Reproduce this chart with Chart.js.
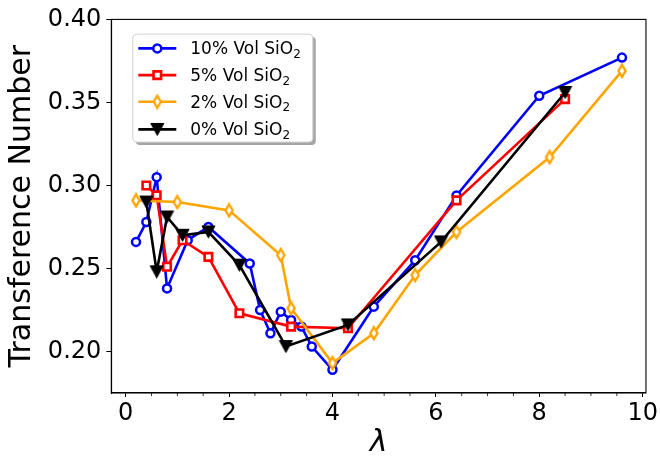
<!DOCTYPE html>
<html>
<head>
<meta charset="utf-8">
<script src="https://cdn.jsdelivr.net/npm/chart.js@4.4.1/dist/chart.umd.min.js"></script>
<style>
  html, body { margin: 0; padding: 0; background: #fff; }
  #wrap { width: 660px; height: 460px; }
</style>
</head>
<body>
<div id="wrap"><canvas id="graph" width="660" height="460"></canvas></div>
<script>
// lambda values and transference numbers per SiO2 loading
var blueX = [0.2, 0.4, 0.6, 0.8, 1.2, 1.6, 2.4, 2.6, 2.8, 3.0, 3.2, 3.4, 3.6, 4.0, 4.8, 5.6, 6.4, 8.0, 9.6];
var blueY = [0.266, 0.278, 0.305, 0.238, 0.267, 0.275, 0.253, 0.225, 0.211, 0.224, 0.219, 0.215, 0.203, 0.189, 0.227, 0.255, 0.294, 0.354, 0.377];

var redX = [0.4, 0.6, 0.8, 1.1, 1.6, 2.2, 3.2, 4.3, 6.4, 8.5];
var redY = [0.300, 0.294, 0.251, 0.267, 0.257, 0.223, 0.215, 0.214, 0.291, 0.352];

var orangeX = [0.2, 1.0, 2.0, 3.0, 3.2, 4.0, 4.8, 5.6, 6.4, 8.2, 9.6];
var orangeY = [0.291, 0.290, 0.285, 0.258, 0.226, 0.193, 0.211, 0.246, 0.272, 0.317, 0.369];

var blackX = [0.4, 0.6, 0.8, 1.1, 1.6, 2.2, 3.1, 4.3, 6.1, 8.5];
var blackY = [0.290, 0.248, 0.281, 0.270, 0.272, 0.252, 0.203, 0.216, 0.266, 0.356];

var seriesNames = ["10% Vol SiO", "5% Vol SiO", "2% Vol SiO", "0% Vol SiO"];
var xTicks = [0, 2, 4, 6, 8, 10];
var yTicks = [0.20, 0.25, 0.30, 0.35, 0.40];
var xMinorStep = 0.5;

var FONT = "'DejaVu Sans', 'Liberation Sans', sans-serif";
var LW = 2.6;

function pts(xs, ys) {
    return xs.map(function (x, i) { return { x: x, y: ys[i] }; });
}

// matplotlib style 'v' and 'd' markers as small canvases
function triangleDown() {
    var c = document.createElement("canvas");
    c.width = 15; c.height = 15;
    var g = c.getContext("2d");
    g.beginPath();
    g.moveTo(1, 1.5);
    g.lineTo(14, 1.5);
    g.lineTo(7.5, 13.5);
    g.closePath();
    g.fillStyle = "#000";
    g.fill();
    g.lineWidth = 1;
    g.strokeStyle = "#000";
    g.stroke();
    return c;
}

function thinDiamond(color) {
    var c = document.createElement("canvas");
    c.width = 12; c.height = 16;
    var g = c.getContext("2d");
    g.beginPath();
    g.moveTo(6, 2);
    g.lineTo(9.6, 8);
    g.lineTo(6, 14);
    g.lineTo(2.4, 8);
    g.closePath();
    g.fillStyle = "#fff";
    g.fill();
    g.lineWidth = 2.4;
    g.strokeStyle = color;
    g.stroke();
    return c;
}

var triImg = triangleDown();
var diaImg = thinDiamond("#ffa500");

var extras = {
    id: "extras",
    afterDatasetsDraw: function (chart) {
        var ctx = chart.ctx;
        var a = chart.chartArea;
        var xs = chart.scales.x;
        ctx.save();
        // frame
        ctx.strokeStyle = "#000";
        ctx.lineWidth = 1.1;
        ctx.strokeRect(a.left, a.top, a.right - a.left, a.bottom - a.top);
        // minor ticks on x
        ctx.lineWidth = 0.8;
        for (var v = 0; v <= xs.max; v += xMinorStep) {
            if (v % 2 === 0) continue;
            var px = xs.getPixelForValue(v);
            ctx.beginPath();
            ctx.moveTo(px, a.bottom);
            ctx.lineTo(px, a.bottom + 3);
            ctx.stroke();
        }
        ctx.restore();
    },
    afterDraw: function (chart) {
        var ctx = chart.ctx;
        var a = chart.chartArea;
        var bx = a.left + 21.5, by = a.top + 14.7, bw = 180, bh = 108;
        ctx.save();
        function rr(x, y, w, h, r) {
            ctx.beginPath();
            ctx.moveTo(x + r, y);
            ctx.lineTo(x + w - r, y);
            ctx.quadraticCurveTo(x + w, y, x + w, y + r);
            ctx.lineTo(x + w, y + h - r);
            ctx.quadraticCurveTo(x + w, y + h, x + w - r, y + h);
            ctx.lineTo(x + r, y + h);
            ctx.quadraticCurveTo(x, y + h, x, y + h - r);
            ctx.lineTo(x, y + r);
            ctx.quadraticCurveTo(x, y, x + r, y);
            ctx.closePath();
        }
        // shadow + frame
        rr(bx + 3, by + 3, bw, bh, 4);
        ctx.fillStyle = "rgba(0,0,0,0.35)";
        ctx.fill();
        rr(bx, by, bw, bh, 4);
        ctx.fillStyle = "#fff";
        ctx.fill();
        ctx.strokeStyle = "#d0d0d0";
        ctx.lineWidth = 1;
        ctx.stroke();

        var rowY = [45, 71.7, 98.3, 126];
        chart.data.datasets.forEach(function (ds, i) {
            var y = by + (rowY[i] - 30.7);
            var x0 = bx + 5.5, x1 = bx + 43.5, xm = (x0 + x1) / 2;
            ctx.strokeStyle = ds.borderColor;
            ctx.lineWidth = LW;
            ctx.beginPath();
            ctx.moveTo(x0, y);
            ctx.lineTo(x1, y);
            ctx.stroke();
            if (typeof ds.pointStyle === "string") {
                ctx.fillStyle = ds.pointBackgroundColor;
                ctx.lineWidth = ds.pointBorderWidth;
                ctx.beginPath();
                if (ds.pointStyle === "circle") {
                    ctx.arc(xm, y, ds.pointRadius, 0, Math.PI * 2);
                } else {
                    var s = ds.pointRadius * Math.SQRT1_2;
                    ctx.rect(xm - s, y - s, 2 * s, 2 * s);
                }
                ctx.fill();
                ctx.stroke();
            } else {
                var img = ds.pointStyle;
                ctx.drawImage(img, xm - img.width / 2, y - img.height / 2);
            }
            // label with subscript 2
            var tx = bx + 57.5;
            ctx.fillStyle = "#000";
            ctx.textBaseline = "alphabetic";
            ctx.textAlign = "left";
            ctx.font = "17px " + FONT;
            ctx.fillText(ds.label, tx, y + 6);
            var w = ctx.measureText(ds.label).width;
            ctx.font = "12px " + FONT;
            ctx.fillText("2", tx + w, y + 9.5);
        });
        ctx.restore();
    }
};

new Chart(document.getElementById("graph"), {
    type: "line",
    data: {
        datasets: [{
            label: seriesNames[0],
            data: pts(blueX, blueY),
            borderColor: "#0000ff",
            borderWidth: LW,
            pointBackgroundColor: "#ffffff",
            pointBorderColor: "#0000ff",
            pointStyle: "circle",
            pointRadius: 4.0,
            pointBorderWidth: 2.5,
            order: 4
        }, {
            label: seriesNames[1],
            data: pts(redX, redY),
            borderColor: "#ff0000",
            borderWidth: LW,
            pointBackgroundColor: "#ffffff",
            pointBorderColor: "#ff0000",
            pointStyle: "rect",
            pointRadius: 5.3,
            pointBorderWidth: 2.6,
            order: 3
        }, {
            label: seriesNames[2],
            data: pts(orangeX, orangeY),
            borderColor: "#ffa500",
            borderWidth: LW,
            pointBackgroundColor: "#ffffff",
            pointBorderColor: "#ffa500",
            pointStyle: diaImg,
            pointRadius: 6,
            pointBorderWidth: 2.4,
            order: 2
        }, {
            label: seriesNames[3],
            data: pts(blackX, blackY),
            borderColor: "#000000",
            borderWidth: LW,
            pointBackgroundColor: "#000000",
            pointBorderColor: "#000000",
            pointStyle: triImg,
            pointRadius: 6,
            pointBorderWidth: 1,
            order: 1
        }]
    },
    options: {
        responsive: false,
        animation: false,
        events: [],
        layout: { padding: { left: 0, right: 13, top: 16, bottom: 0 } },
        elements: {
            line: { tension: 0, fill: false },
            point: { hoverRadius: 0 }
        },
        plugins: {
            legend: { display: false },
            tooltip: { enabled: false }
        },
        scales: {
            x: {
                type: "linear",
                min: -0.278,
                max: 10.064,
                afterBuildTicks: function (scale) {
                    scale.ticks = xTicks.map(function (v) { return { value: v }; });
                },
                afterFit: function (scale) { scale.height = 67; },
                grid: {
                    drawOnChartArea: false,
                    drawTicks: true,
                    tickLength: 4,
                    color: "#000",
                    lineWidth: 1
                },
                border: { display: true, color: "#000", width: 1.1 },
                ticks: {
                    color: "#000",
                    padding: 2,
                    maxRotation: 0,
                    font: { family: FONT, size: 24 },
                    callback: function (v) { return String(v); }
                },
                title: {
                    display: true,
                    text: "λ",
                    color: "#000",
                    padding: { top: 0, bottom: 2 },
                    font: { family: FONT, size: 30, style: "italic", lineHeight: 1.0 }
                }
            },
            y: {
                type: "linear",
                min: 0.175,
                max: 0.40,
                afterBuildTicks: function (scale) {
                    scale.ticks = yTicks.map(function (v) { return { value: v }; });
                },
                afterFit: function (scale) { scale.width = 111.3; },
                grid: {
                    drawOnChartArea: false,
                    drawTicks: true,
                    tickLength: 5,
                    color: "#000",
                    lineWidth: 1
                },
                border: { display: true, color: "#000", width: 1.1 },
                ticks: {
                    color: "#000",
                    padding: 5,
                    font: { family: FONT, size: 24 },
                    callback: function (v) { return v.toFixed(2); }
                },
                title: {
                    display: true,
                    text: "Transference Number",
                    color: "#000",
                    padding: { top: 4, bottom: 4 },
                    font: { family: FONT, size: 30 }
                }
            }
        }
    },
    plugins: [extras]
});
</script>
</body>
</html>
